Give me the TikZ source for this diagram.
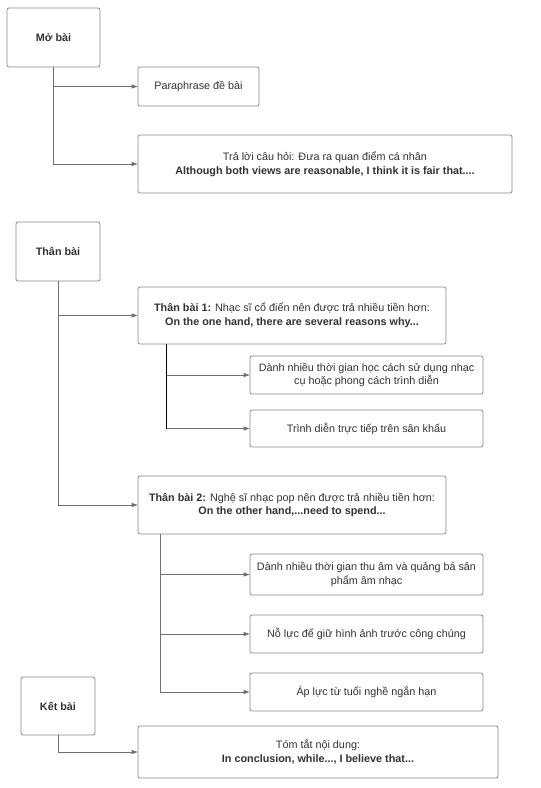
\documentclass[tikz,border=0pt]{standalone}
\usepackage{fontspec}
\setmainfont{Liberation Sans}
\usetikzlibrary{arrows.meta}
\definecolor{txt}{HTML}{333333}
\definecolor{bord}{HTML}{8A8A8A}
\definecolor{conn}{HTML}{707070}
\begin{document}
\begin{tikzpicture}[x=1pt,y=-1pt,
  box/.style={draw=bord, line width=0.8pt, rounded corners=2pt, fill=white, text=txt,
    align=center, inner sep=2pt, font=\fontsize{10.8}{13.8}\selectfont},
  conn/.style={draw=conn, line width=0.8pt, -{Triangle[length=6pt,width=4pt]}},
]
\useasboundingbox (0,0) rectangle (541,788);
\fill[white] (0,0) rectangle (541,788);
% boxes
\node[box, minimum width=93pt, minimum height=59pt] (mobai) at (53.5,37.5) {\textbf{Mở bài}};
\node[box, minimum width=121pt, minimum height=39pt] (para) at (198.5,86.5) {Paraphrase đề bài};
\node[box, minimum width=374pt, minimum height=58pt] (traloi) at (325,164) {Trả lời câu hỏi: Đưa ra quan điểm cá nhân\\ \textbf{Although both views are reasonable, I think it is fair that....}};
\node[box, minimum width=84pt, minimum height=59pt] (thanbai) at (58,251.5) {\textbf{Thân bài}};
\node[box, minimum width=308pt, minimum height=57pt] (tb1) at (292,315.5) {\textbf{Thân bài 1:} Nhạc sĩ cổ điển nên được trả nhiều tiền hơn:\\ \textbf{On the one hand, there are several reasons why...}};
\node[box, minimum width=233pt, minimum height=38pt] (a) at (366.5,375) {Dành nhiều thời gian học cách sử dụng nhạc\\ cụ hoặc phong cách trình diễn};
\node[box, minimum width=233pt, minimum height=37pt] (b) at (366.5,428.5) {Trình diễn trực tiếp trên sân khấu};
\node[box, minimum width=308pt, minimum height=58pt] (tb2) at (292,505) {\textbf{Thân bài 2:} Nghệ sĩ nhạc pop nên được trả nhiều tiền hơn:\\ \textbf{On the other hand,...need to spend...}};
\node[box, minimum width=233pt, minimum height=41pt] (c) at (366.5,574.5) {Dành nhiều thời gian thu âm và quảng bá sản\\ phẩm âm nhạc};
\node[box, minimum width=233pt, minimum height=38pt] (d) at (366.5,634) {Nỗ lực để giữ hình ảnh trước công chúng};
\node[box, minimum width=233pt, minimum height=38pt] (e) at (366.5,692) {Áp lực từ tuổi nghề ngắn hạn};
\node[box, minimum width=74pt, minimum height=58pt] (ketbai) at (58,706) {\textbf{Kết bài}};
\node[box, minimum width=360pt, minimum height=52pt] (tomtat) at (318,752) {Tóm tắt nội dung:\\ \textbf{In conclusion, while..., I believe that...}};
% connector start points on box edges
\coordinate (t1) at (166,344);
\coordinate (t2) at (160,534);
% connectors
\draw[conn] (mobai.south) |- (para.west);
\draw[conn] (mobai.south) |- (traloi.west);
\draw[conn] (thanbai.south) |- (tb1.west);
\draw[conn] (thanbai.south) |- (tb2.west);
\draw[conn] (t1) |- (a.west);
\draw[conn] (t1) |- (b.west);
\draw[black, line width=0.9pt] (t1) -- (t1 |- b.west);
\draw[conn] (t2) |- (c.west);
\draw[conn] (t2) |- (d.west);
\draw[conn] (t2) |- (e.west);
\draw[conn] (ketbai.south) |- (tomtat.west);
\end{tikzpicture}
\end{document}
